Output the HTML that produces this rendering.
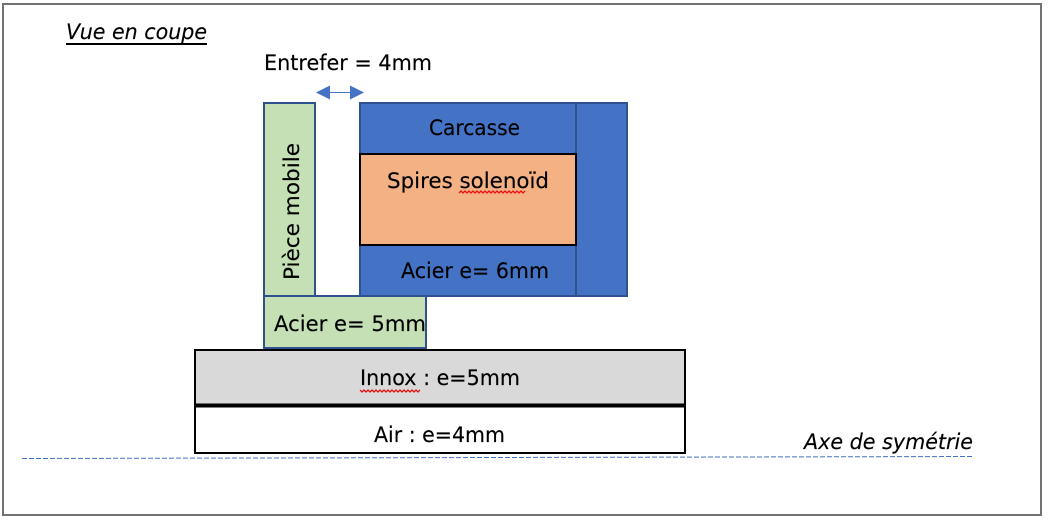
<!DOCTYPE html>
<html lang="fr">
<head>
<meta charset="utf-8">
<style>
html,body{margin:0;padding:0;background:#fff;width:1048px;height:524px;overflow:hidden}
svg{display:block}
text{font-family:"DejaVu Sans","Liberation Sans",sans-serif;font-size:21px;fill:#000;stroke:#000;stroke-width:.15px}
</style>
</head>
<body>
<svg width="1048" height="524" viewBox="0 0 1048 524" xmlns="http://www.w3.org/2000/svg">
<rect x="3" y="4" width="1038" height="511" fill="#fff" stroke="#767171" stroke-width="2"/>

<!-- Carcasse -->
<rect x="360" y="103" width="267" height="193" fill="#4472c4" stroke="#2f528f" stroke-width="2"/>
<line x1="576" y1="103" x2="576" y2="296" stroke="#2f528f" stroke-width="2"/>
<rect x="360" y="154" width="216" height="91" fill="#f4b183" stroke="#000" stroke-width="2"/>

<!-- Piece mobile -->
<rect x="264" y="103" width="51" height="193" fill="#c5e0b4" stroke="#2f528f" stroke-width="2"/>
<rect x="264" y="296" width="162" height="52" fill="#c5e0b4" stroke="#2f528f" stroke-width="2"/>

<!-- Innox / Air -->
<rect x="195" y="350" width="490" height="55" fill="#d9d9d9" stroke="#000" stroke-width="2"/>
<rect x="195" y="406" width="490" height="47" fill="#fff" stroke="#000" stroke-width="2"/>
<line x1="195" y1="405.500" x2="685" y2="405.500" stroke="#000" stroke-width="4"/>

<!-- Axis -->
<line x1="22" y1="458.500" x2="972" y2="456.500" stroke="#4472c4" stroke-width="1" stroke-dasharray="5 2"/>

<!-- Arrow -->
<line x1="325" y1="92.500" x2="355" y2="92.500" stroke="#4472c4" stroke-width="1"/>
<polygon points="316,92.500 330,85.500 330,99.500" fill="#4472c4"/>
<polygon points="364,92.500 350,85.500 350,99.500" fill="#4472c4"/>

<!-- Labels -->
<text x="66" y="39" font-style="italic" textLength="141" lengthAdjust="spacingAndGlyphs">Vue en coupe</text>
<line x1="66" y1="44" x2="207" y2="44" stroke="#000" stroke-width="2"/>
<text x="264" y="70" textLength="168" lengthAdjust="spacingAndGlyphs">Entrefer = 4mm</text>
<text x="429" y="135" textLength="91" lengthAdjust="spacingAndGlyphs">Carcasse</text>
<text x="387" y="188" textLength="162" lengthAdjust="spacingAndGlyphs">Spires solenoïd</text>
<polyline points="459,193 461,191 463,193 465,191 467,193 469,191 471,193 473,191 475,193 477,191 479,193 481,191 483,193 485,191 487,193 489,191 491,193 493,191 495,193 497,191 499,193 501,191 503,193 505,191 507,193 509,191 511,193 513,191 515,193 517,191 519,193 521,191 523,193 525,191" fill="none" stroke="#e81010" stroke-width="1.300"/>
<text x="401" y="278" textLength="148" lengthAdjust="spacingAndGlyphs">Acier e= 6mm</text>
<text transform="translate(299,280) rotate(-90)" textLength="137" lengthAdjust="spacingAndGlyphs">Pièce mobile</text>
<text x="274" y="331" textLength="152" lengthAdjust="spacingAndGlyphs">Acier e= 5mm</text>
<text x="360" y="385" textLength="160" lengthAdjust="spacingAndGlyphs">Innox : e=5mm</text>
<polyline points="360,390 362,392 364,390 366,392 368,390 370,392 372,390 374,392 376,390 378,392 380,390 382,392 384,390 386,392 388,390 390,392 392,390 394,392 396,390 398,392 400,390 402,392 404,390 406,392 408,390 410,392 412,390 414,392 416,390 418,392 420,390" fill="none" stroke="#e81010" stroke-width="1.300"/>
<text x="374" y="442" textLength="131" lengthAdjust="spacingAndGlyphs">Air : e=4mm</text>
<text x="804" y="449" font-style="italic" textLength="169" lengthAdjust="spacingAndGlyphs">Axe de symétrie</text>
</svg>
</body>
</html>
